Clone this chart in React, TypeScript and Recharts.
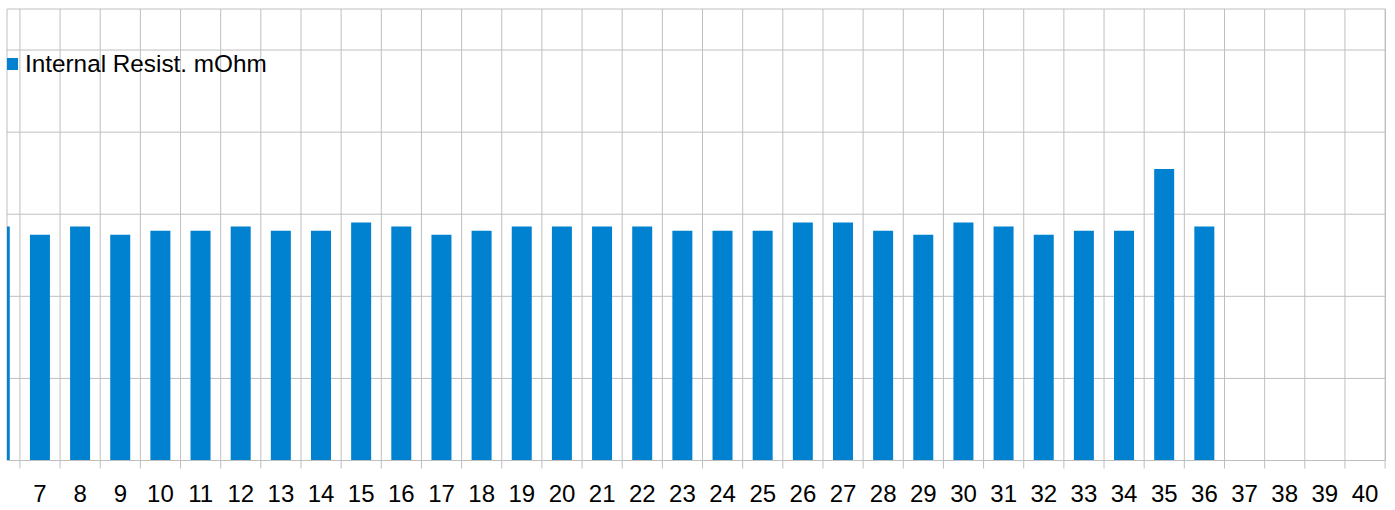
import { BarChart, Bar, XAxis, YAxis, CartesianGrid } from "recharts";

const cells = [6, 7, 8, 9, 10, 11, 12, 13, 14, 15, 16, 17, 18, 19, 20, 21, 22, 23, 24, 25, 26, 27, 28, 29, 30, 31, 32, 33, 34, 35, 36];
const resistance = [28.5, 27.5, 28.5, 27.5, 28, 28, 28.5, 28, 28, 29, 28.5, 27.5, 28, 28.5, 28.5, 28.5, 28.5, 28, 28, 28, 29, 29, 28, 27.5, 29, 28.5, 27.5, 28, 28, 35.5, 28.5];
const labelTicks = [7, 8, 9, 10, 11, 12, 13, 14, 15, 16, 17, 18, 19, 20, 21, 22, 23, 24, 25, 26, 27, 28, 29, 30, 31, 32, 33, 34, 35, 36, 37, 38, 39, 40];
const boundaryTicks = labelTicks.map((t) => t - 0.5).concat([40.5]);
const yTicks = [0, 10, 20, 30, 40, 50, 55];

const FONT = "'Liberation Sans', Arial, sans-serif";
const BLUE = "#0182d0";
const GRID = "#bfbfbf";

const data = cells.map((c, i) => ({ cell: c, value: resistance[i] }));

// legend sits over the plot, like the spreadsheet original
function LegendBox() {
  return (
    <div
      style={{
        position: "absolute",
        top: 52,
        left: 7,
        display: "flex",
        alignItems: "center",
        fontFamily: FONT,
        fontSize: 24.3,
        lineHeight: "24px",
        color: "#000",
        whiteSpace: "nowrap",
      }}
    >
      <span
        style={{
          display: "inline-block",
          width: 11,
          height: 12,
          background: BLUE,
          marginRight: 7,
        }}
      />
      Internal Resist. mOhm
    </div>
  );
}

export default function App() {
  return (
    <div style={{ position: "absolute", left: 0, top: 0, width: 1395, height: 510, background: "#fff" }}>
      <BarChart
        width={1395}
        height={510}
        data={data}
        margin={{ top: 9, right: 9.5, left: 7, bottom: 0 }}
      >
        <CartesianGrid stroke={GRID} strokeWidth={1} xAxisId="grid" />
        <XAxis
          xAxisId="grid"
          type="number"
          dataKey="cell"
          domain={[6.178, 40.51]}
          allowDataOverflow
          ticks={boundaryTicks}
          interval={0}
          tickFormatter={() => " "}
          tickSize={8}
          height={1}
          axisLine={{ stroke: GRID }}
          tickLine={{ stroke: GRID }}
        />
        <XAxis
          xAxisId="lab"
          type="number"
          dataKey="cell"
          domain={[6.178, 40.51]}
          allowDataOverflow
          ticks={labelTicks}
          interval={0}
          axisLine={false}
          tickLine={false}
          tickSize={0}
          tickMargin={23}
          height={48.5}
          tick={{ fill: "#000", fontSize: 24, fontFamily: FONT }}
        />
        <YAxis hide domain={[0, 55]} ticks={yTicks} allowDataOverflow />
        <Bar
          xAxisId="lab"
          dataKey="value"
          fill={BLUE}
          barSize={20}
          isAnimationActive={false}
        />
      </BarChart>
      <LegendBox />
    </div>
  );
}
